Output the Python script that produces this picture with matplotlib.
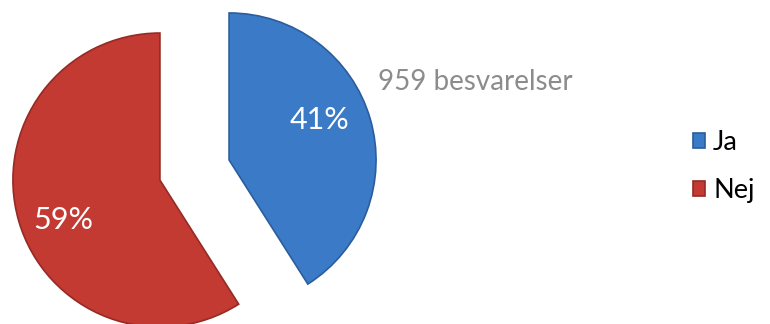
import matplotlib.pyplot as plt

labels = ['Ja', 'Nej']
shares = [41, 59]
colors = ['#3b7ac7', '#c23a31']
edge_colors = ['#2b5d9c', '#962a25']
note = '959 besvarelser'

plt.rcParams['font.family'] = ['Lato', 'DejaVu Sans']

fig = plt.figure(figsize=(7.7, 3.24), dpi=100)
ax = fig.add_axes([0, 0, 1, 1])

wedges, texts, autotexts = ax.pie(
    shares,
    colors=colors,
    startangle=90,
    counterclock=False,
    explode=[36, 36],
    radius=147,
    center=(194.5, 154),
    autopct='%.0f%%',
    pctdistance=0.68,
    textprops=dict(color='white', fontsize=22),
    wedgeprops=dict(linewidth=1.2),
)
for w, ec in zip(wedges, edge_colors):
    w.set_edgecolor(ec)

# percentage labels sit a little off the slice middles in the original
autotexts[0].set_position((320, 204))
autotexts[1].set_position((63, 104))

ax.set_xlim(0, 770)
ax.set_ylim(0, 324)
ax.set_aspect('auto')
ax.axis('off')

ax.text(378, 242, note, fontsize=20, color='#8c8c8c', va='center', ha='left')

leg = ax.legend(wedges, labels, loc='center left', bbox_to_anchor=(0.868, 0.486),
                frameon=False, fontsize=19.5, handlelength=0.45, handleheight=0.45,
                handletextpad=0.3, labelspacing=0.85)

fig.savefig('out.png', dpi=100)
